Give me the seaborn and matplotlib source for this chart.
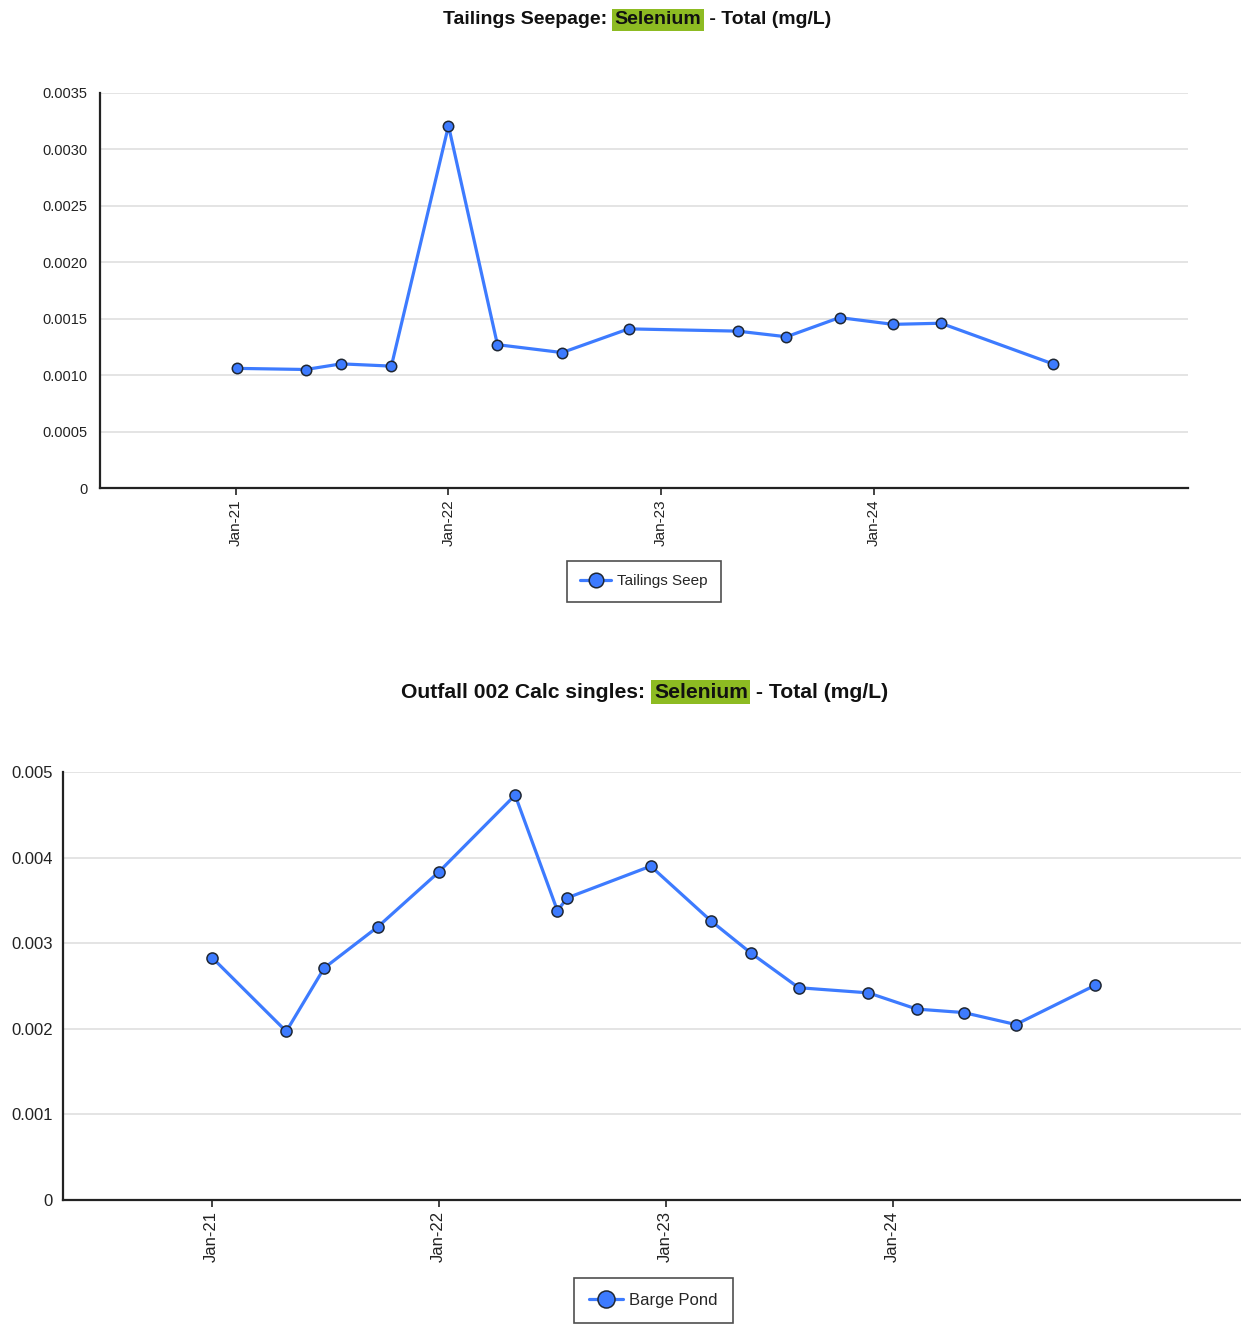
import matplotlib
matplotlib.use("Agg")
import matplotlib.pyplot as plt
import matplotlib.dates as mdates
from matplotlib.ticker import FuncFormatter, MultipleLocator, FixedLocator
import pandas as pd
import seaborn as sns

# Tailings Seep sampling results (Selenium, total, mg/L)
seep_dates = ["2021-01-03", "2021-05-01", "2021-07-01", "2021-09-25", "2022-01-01",
              "2022-03-26", "2022-07-15", "2022-11-06", "2023-05-12", "2023-08-04",
              "2023-11-03", "2024-02-03", "2024-04-25", "2024-11-03"]
seep_values = [0.00106, 0.00105, 0.00110, 0.00108, 0.00321,
               0.00127, 0.00120, 0.00141, 0.00139, 0.00134,
               0.00151, 0.00145, 0.00146, 0.00110]

# Barge Pond sampling results (Selenium, total, mg/L)
pond_dates = ["2021-01-02", "2021-05-01", "2021-07-01", "2021-09-25", "2022-01-01",
              "2022-05-04", "2022-07-11", "2022-07-27", "2022-12-08", "2023-03-15",
              "2023-05-19", "2023-08-03", "2023-11-23", "2024-02-09", "2024-04-24",
              "2024-07-17", "2024-11-22"]
pond_values = [0.00283, 0.00197, 0.00271, 0.00319, 0.00383,
               0.00473, 0.00338, 0.00353, 0.00390, 0.00326,
               0.00288, 0.00248, 0.00242, 0.00223, 0.00219,
               0.00205, 0.00251]

tick_dates = ["2021-01-01", "2022-01-01", "2023-01-01", "2024-01-01"]
tick_labels = ["Jan-21", "Jan-22", "Jan-23", "Jan-24"]

top_title = ["Tailings Seepage: ", "Selenium", " - Total (mg/L)"]
bottom_title = ["Outfall 002 Calc singles: ", "Selenium", " - Total (mg/L)"]
top_label = "Tailings Seep"
bottom_label = "Barge Pond"

seep = pd.DataFrame({"date": pd.to_datetime(seep_dates), "value": seep_values})
pond = pd.DataFrame({"date": pd.to_datetime(pond_dates), "value": pond_values})

sns.set_style("white")
plt.rcParams["font.family"] = ["Liberation Sans", "DejaVu Sans"]

LINE = "#3d7bff"
EDGE = "#1f2733"
GRID = "#e4e4e4"
HIGHLIGHT = "#8dbb22"

fig = plt.figure(figsize=(12.41, 13.26), dpi=100)
ax1 = fig.add_axes([100 / 1241, 1 - 488 / 1326, 1088 / 1241, 395 / 1326])
ax2 = fig.add_axes([63 / 1241, 1 - 1200 / 1326, 1181 / 1241, 428 / 1326])


def style_axis(ax, ymax, ystep, fmt, yfs, xfs, ypad):
    ax.set_ylim(0, ymax)
    ax.yaxis.set_major_locator(MultipleLocator(ystep))
    ax.yaxis.set_major_formatter(FuncFormatter(lambda v, p: "0" if abs(v) < 1e-12 else fmt.format(v)))
    ticks = mdates.date2num(pd.to_datetime(tick_dates))
    ax.xaxis.set_major_locator(FixedLocator(ticks))
    ax.set_xticklabels(tick_labels)
    ax.grid(axis="y", color=GRID, linewidth=1.4)
    ax.grid(axis="x", visible=False)
    ax.set_axisbelow(True)
    for s in ("top", "right"):
        ax.spines[s].set_visible(False)
    for s in ("left", "bottom"):
        ax.spines[s].set_color("#222222")
        ax.spines[s].set_linewidth(1.6)
    ax.tick_params(axis="y", length=0, labelsize=yfs, labelcolor="#222222", pad=ypad)
    ax.tick_params(axis="x", length=5, width=1.2, color="#222222", labelsize=xfs,
                   labelcolor="#222222", rotation=90, pad=3, bottom=True)
    for lab in ax.get_xticklabels():
        lab.set_verticalalignment("top")
    ax.set_xlabel("")
    ax.set_ylabel("")


def draw_series(ax, df, label, ms):
    sns.lineplot(data=df, x="date", y="value", ax=ax, color=LINE, linewidth=2.3,
                 marker="o", markersize=ms, markerfacecolor=LINE,
                 markeredgecolor=EDGE, markeredgewidth=1.1, label=label)


draw_series(ax1, seep, top_label, 7.5)
draw_series(ax2, pond, bottom_label, 8)

ax1.set_xlim(pd.Timestamp("2020-05-13"), pd.Timestamp("2025-06-23"))
ax2.set_xlim(pd.Timestamp("2020-05-07"), pd.Timestamp("2025-07-19"))
style_axis(ax1, 0.0035, 0.0005, "{:.4f}", 10.5, 11, 9)
style_axis(ax2, 0.005, 0.001, "{:.3f}", 12, 12, 7.5)

# legends below each chart
for ax, cx, cy, fs, ms in ((ax1, 644, 581.5, 11, 10.5), (ax2, 653.5, 1300.5, 12, 11.5)):
    leg = ax.legend(loc="center", bbox_to_anchor=(cx / 1241, 1 - cy / 1326),
                    bbox_transform=fig.transFigure, frameon=True, fancybox=False,
                    fontsize=fs, handlelength=2.0, handletextpad=0.4,
                    borderpad=0.9, borderaxespad=0, markerscale=ms / 7.5)
    leg.get_frame().set_edgecolor("#222222")
    leg.get_frame().set_linewidth(1.2)

# titles built from pieces so that the element name carries a highlight
fig.canvas.draw()
renderer = fig.canvas.get_renderer()


def pieced_title(parts, cx, cy, fs):
    texts = []
    for i, part in enumerate(parts):
        kw = {}
        if i == 1:
            kw["bbox"] = dict(boxstyle="square,pad=0.12", facecolor=HIGHLIGHT, edgecolor="none")
        t = fig.text(0, 1 - cy / 1326, part, fontsize=fs, fontweight="bold",
                     ha="left", va="center", color="#111111", **kw)
        texts.append(t)
    widths = [t.get_window_extent(renderer=renderer, dpi=100).width for t in texts]
    gap = fs * 0.12 * 100 / 72
    total = sum(widths) + 2 * gap
    start = cx - total / 2
    for i, (t, w) in enumerate(zip(texts, widths)):
        if i == 1:
            start += gap
        t.set_x(start / 1241)
        start += w
        if i == 1:
            start += gap


pieced_title(top_title, 637, 20, 14)
pieced_title(bottom_title, 645, 692, 15.2)

fig.savefig("out.png", dpi=100)
